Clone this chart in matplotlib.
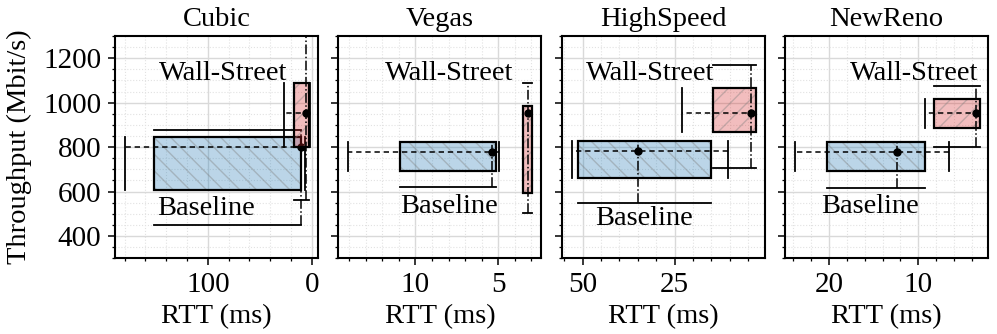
import numpy as np
import matplotlib.pyplot as plt
from matplotlib.patches import Rectangle
from matplotlib.ticker import MultipleLocator

plt.rcParams['font.family'] = ['Liberation Serif', 'DejaVu Serif']

algos = ["Cubic", "Vegas", "HighSpeed", "NewReno"]

# each row: (whisker low, q1, median, q3, whisker high)
base_rtt = [[7.0, 10.0, 10.3, 151.7, 179.3],
            [4.96, 5.16, 5.36, 10.9, 14.06],
            [10.4, 15.2, 34.9, 51.4, 53.0],
            [6.6, 9.25, 12.4, 20.26, 23.8]]
base_tp = [[451, 609, 801, 846, 877],
           [621, 693, 779, 824, 824],
           [549, 659, 783, 827, 827],
           [618, 693, 779, 824, 824]]
ws_rtt = [[2.0, 3.1, 5.3, 16.8, 27.0],
          [2.96, 2.96, 3.2, 3.54, 3.54],
          [3.0, 3.0, 4.2, 14.6, 22.9],
          [3.07, 3.07, 3.6, 8.2, 9.2]]
ws_tp = [[561, 799, 952, 1090, 1400],
         [504, 594, 955, 985, 1087],
         [704, 869, 955, 1065, 1170],
         [799, 884, 955, 1016, 1076]]

xlims = [(189, -6), (14.64, 2.4), (55.7, 0.5), (24.9, 2.2)]
xmajor = [100, 5, 25, 10]
xminor = [20, 1, 5, 2]

# label positions (axes fraction, baseline)
ws_pos = [(0.53, 0.802), (0.545, 0.802), (0.436, 0.802), (0.636, 0.802)]
bl_pos = [(0.449, 0.195), (0.544, 0.202), (0.405, 0.15), (0.42, 0.202)]


def draw_box(ax, rtt, tp, color, hatch, z):
    xlo, xq1, xmed, xq3, xhi = rtt
    ylo, yq1, ymed, yq3, yhi = tp
    w, h = xq3 - xq1, yq3 - yq1
    ax.add_patch(Rectangle((xq1, yq1), w, h, facecolor=color, alpha=0.3, lw=0, zorder=z))
    ax.add_patch(Rectangle((xq1, yq1), w, h, fill=False, hatch=hatch, edgecolor='grey',
                           lw=0, alpha=0.4, zorder=z))
    ax.add_patch(Rectangle((xq1, yq1), w, h, fill=False, edgecolor='black', lw=1.6, zorder=z + 1))
    ax.plot([xlo, xhi], [ymed, ymed], color='black', ls=(0, (3.5, 2.5)), lw=1.1, zorder=z + 1)
    ax.plot([xmed, xmed], [ylo, yhi], color='black', ls='-.', lw=1.1, zorder=z + 1)
    for xv in (xlo, xhi):
        ax.plot([xv, xv], [yq1, yq3], color='black', lw=1.3, zorder=z + 1)
    for yv in (ylo, yhi):
        ax.plot([xq1, xq3], [yv, yv], color='black', lw=1.3, zorder=z + 1)
    ax.plot(xmed, ymed, 'o', color='black', ms=5, zorder=z + 2)


fig, axs = plt.subplots(1, 4, figsize=(9.97, 3.34), dpi=100, sharey=True)
fig.subplots_adjust(left=0.1155, right=0.991, top=0.892, bottom=0.227, wspace=0.1)

for i, ax in enumerate(axs):
    draw_box(ax, base_rtt[i], base_tp[i], 'tab:blue', '\\\\', 2)
    draw_box(ax, ws_rtt[i], ws_tp[i], 'tab:red', '//', 6)
    ax.text(ws_pos[i][0], ws_pos[i][1], "Wall-Street", transform=ax.transAxes,
            ha='center', va='baseline', fontsize=20.5, zorder=10)
    ax.text(bl_pos[i][0], bl_pos[i][1], "Baseline", transform=ax.transAxes,
            ha='center', va='baseline', fontsize=20.5, zorder=10)

    ax.set_xlim(*xlims[i])
    ax.set_ylim(300, 1300)
    ax.xaxis.set_major_locator(MultipleLocator(xmajor[i]))
    ax.xaxis.set_minor_locator(MultipleLocator(xminor[i]))
    ax.yaxis.set_major_locator(MultipleLocator(200))
    ax.yaxis.set_minor_locator(MultipleLocator(50))
    ax.grid(which='major', color='#d9d9d9', lw=1.0, zorder=0)
    ax.grid(which='minor', color='#e2e2e2', ls=':', lw=0.8, zorder=0)
    ax.set_axisbelow(True)
    ax.tick_params(which='major', length=5, width=1.1, labelsize=21, pad=5)
    ax.tick_params(which='minor', length=2.5, width=0.9)
    for sp in ax.spines.values():
        sp.set_linewidth(1.5)
    ax.set_title(algos[i], fontsize=20.5, pad=7)
    ax.set_xlabel("RTT (ms)", fontsize=20.5)

axs[0].set_ylabel("Throughput (Mbit/s)", fontsize=20.5, labelpad=8)

plt.savefig("out.png", dpi=100)
